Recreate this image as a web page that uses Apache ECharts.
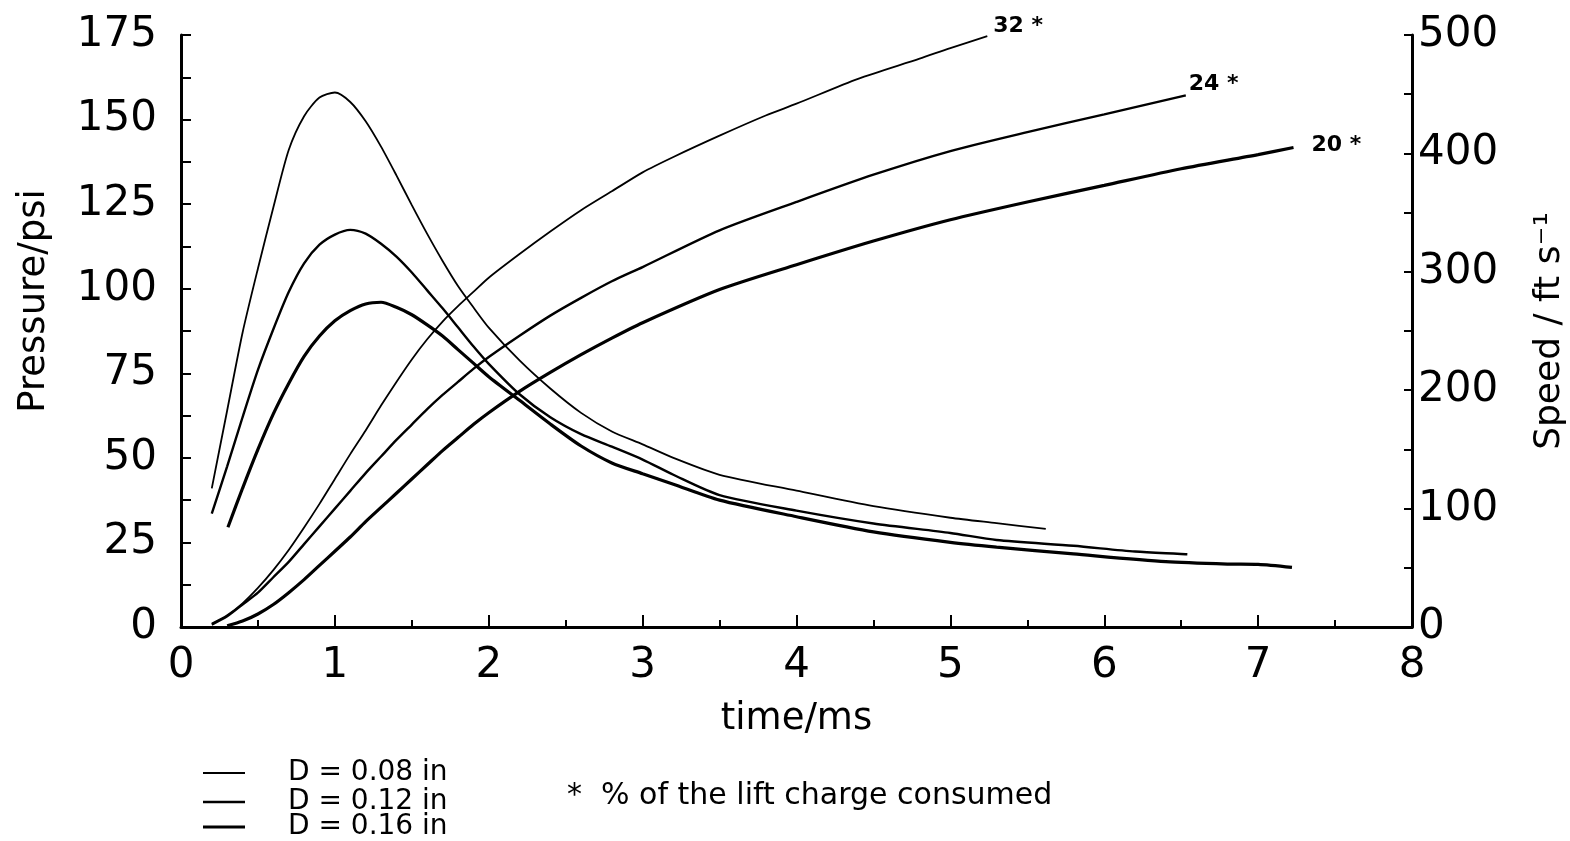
<!DOCTYPE html>
<html>
<head>
<meta charset="utf-8">
<script src="https://cdn.jsdelivr.net/npm/echarts@6/dist/echarts.min.js"></script>
<style>
html,body{margin:0;padding:0;background:#fff;}
#chart{width:1570px;height:841px;}
</style>
</head>
<body>
<div id="chart"></div>
<script>
// ---- data ----
const seriesNames = ['D = 0.08 in', 'D = 0.12 in', 'D = 0.16 in'];
const endLabels = ['32 *', '24 *', '20 *'];
const footnote = '*  % of the lift charge consumed';

const xTicks = [0, 1, 2, 3, 4, 5, 6, 7, 8];
const pressureTicks = [0, 25, 50, 75, 100, 125, 150, 175];
const speedTicks = [0, 100, 200, 300, 400, 500];

// Pressure (psi) vs time (ms)
const tP08 = [0.20,0.30,0.40,0.50,0.60,0.70,0.80,0.90,1.00,1.10,1.20,1.30,1.40,1.50,1.60,1.70,1.80,1.90,2.00,2.20,2.40,2.60,2.80,3.00,3.20,3.50,4.00,4.50,5.00,5.30,5.62];
const vP08 = [41,64,87,106,124,141,151,156.5,158,155.2,149.5,142,133.5,124.7,116.2,108.2,100.8,94.5,88.5,78.8,70.5,63.3,57.8,54,50,45,40.3,35.7,32.3,30.7,29];

const tP12 = [0.20,0.30,0.40,0.50,0.60,0.70,0.80,0.90,1.00,1.10,1.20,1.30,1.40,1.50,1.60,1.70,1.80,1.90,2.00,2.20,2.40,2.60,2.80,3.00,3.20,3.50,4.00,4.50,5.00,5.30,5.80,6.20,6.54];
const vP12 = [33.5,47.5,62,76,88,99,107.5,113,116,117.4,116.3,113.3,109.5,104.8,99.5,94.2,88.6,83,77.8,68.8,62,57,53.3,49.5,45,39,34.4,30.6,27.8,25.7,24,22.3,21.5];

const tP16 = [0.305,0.40,0.50,0.60,0.70,0.80,0.90,1.00,1.10,1.20,1.30,1.40,1.50,1.60,1.70,1.80,1.90,2.00,2.20,2.40,2.60,2.80,3.00,3.20,3.50,4.00,4.50,5.00,5.30,5.80,6.40,6.80,7.00,7.22];
const vP16 = [29.5,41,52.5,63,72,80,86,90.5,93.5,95.5,96,94.5,92.3,89.3,86,82,78,74,67,60,53.5,48.5,45.3,42.2,37.5,32.6,28.1,25,23.6,21.6,19.3,18.6,18.5,17.6];

// Speed (ft/s) vs time (ms)
const tS08 = [0.20,0.30,0.40,0.50,0.60,0.70,0.80,0.90,1.00,1.10,1.20,1.30,1.40,1.50,1.60,1.70,1.80,1.90,2.00,2.20,2.40,2.60,2.80,3.00,3.20,3.50,3.80,4.00,4.40,4.80,5.00,5.24];
const vS08 = [3,10,20,33,48,65,84,104,125,146,166,187,207,226,243,258,271,283,295,315,334,352,368,384,397,415,432,442,463,480,489,499];

const tS12 = [0.20,0.30,0.40,0.50,0.60,0.70,0.80,0.90,1.00,1.10,1.20,1.30,1.40,1.50,1.60,1.70,1.80,1.90,2.00,2.20,2.40,2.60,2.80,3.00,3.50,4.00,4.50,5.00,5.50,6.00,6.53];
const vS12 = [2,9,19,29,42,55,70,85,100,115,130,144,158,171,184,196,207,218,228,246,263,278,292,304,335,359,382,402,418,433,449];

const tS16 = [0.30,0.40,0.50,0.60,0.70,0.80,0.90,1.00,1.10,1.20,1.30,1.40,1.50,1.60,1.70,1.80,1.90,2.00,2.20,2.40,2.60,2.80,3.00,3.50,4.00,4.50,5.00,5.50,6.00,6.50,7.00,7.23];
const vS16 = [1,5,11,19,29,40,52,64,76,89,101,113,125,137,149,160,171,181,199,215,230,244,257,285,306,326,344,359,373,387,399,405];

// ---- build ----
const zip = (t, v) => t.map((x, i) => [x, v[i]]);
const FONT = 'DejaVu Sans';
const widths = [1.8, 2.4, 3.2];

const pressure = [zip(tP08, vP08), zip(tP12, vP12), zip(tP16, vP16)];
const speed = [zip(tS08, vS08), zip(tS12, vS12), zip(tS16, vS16)];
const endOffsets = [[6, -10], [3, -11], [18, -2]];
const legendTops = [754, 783, 808];

const series = [];
for (let i = 0; i < 3; i++) {
  series.push({
    name: seriesNames[i], type: 'line', yAxisIndex: 0, data: pressure[i],
    symbol: 'none', smooth: 0.25, color: '#000',
    lineStyle: { color: '#000', width: widths[i] }
  });
}
for (let i = 0; i < 3; i++) {
  series.push({
    name: seriesNames[i], type: 'line', yAxisIndex: 1, data: speed[i],
    symbol: 'none', smooth: 0.25, color: '#000',
    lineStyle: { color: '#000', width: widths[i] },
    endLabel: {
      show: true, formatter: endLabels[i], distance: 0, offset: endOffsets[i],
      fontFamily: FONT, fontSize: 22, fontWeight: 'bold', color: '#000'
    }
  });
}

const legends = seriesNames.map((n, i) => ({
  data: [{ name: n, icon: 'rect' }], orient: 'vertical', left: 198, top: legendTops[i],
  itemWidth: 42, itemHeight: widths[i], itemGap: 0, selectedMode: false,
  itemStyle: { color: '#000' },
  textStyle: { fontFamily: FONT, fontSize: 28, color: '#000', padding: [0, 0, 0, 38] }
}));

const axisCommon = {
  axisLine: { show: true, onZero: false, lineStyle: { color: '#000', width: 3 } },
  splitLine: { show: false },
  minorSplitLine: { show: false }
};

const chart = echarts.init(document.getElementById('chart'), null, { renderer: 'canvas' });
chart.setOption({
  backgroundColor: '#fff',
  animation: false,
  grid: { left: 181, right: 158, top: 35, bottom: 214, containLabel: false, outerBoundsMode: 'none' },
  legend: legends,
  xAxis: Object.assign({}, axisCommon, {
    type: 'value', min: xTicks[0], max: xTicks[xTicks.length - 1], interval: 1,
    name: 'time/ms', nameLocation: 'middle', nameGap: 74,
    nameTextStyle: { fontFamily: FONT, fontSize: 37, color: '#000' },
    axisTick: { show: true, inside: true, length: 12, lineStyle: { color: '#000', width: 2 } },
    minorTick: { show: true, splitNumber: 2, length: 7, lineStyle: { color: '#000', width: 2 } },
    axisLabel: { fontFamily: FONT, fontSize: 42, color: '#000', margin: 18 }
  }),
  yAxis: [
    Object.assign({}, axisCommon, {
      type: 'value', position: 'left', min: pressureTicks[0], max: pressureTicks[pressureTicks.length - 1], interval: 25,
      name: 'Pressure/psi', nameLocation: 'middle', nameRotate: 90, nameGap: 128,
      nameTextStyle: { fontFamily: FONT, fontSize: 37, color: '#000', padding: [0, 0, 0, 60] },
      axisTick: { show: true, inside: true, length: 10, lineStyle: { color: '#000', width: 2 } },
      minorTick: { show: true, splitNumber: 2, length: 10, lineStyle: { color: '#000', width: 2 } },
      axisLabel: { fontFamily: FONT, fontSize: 42, color: '#000', margin: 24 }
    }),
    Object.assign({}, axisCommon, {
      type: 'value', position: 'right', min: speedTicks[0], max: speedTicks[speedTicks.length - 1], interval: 100,
      name: 'Speed / ft s\u207B\u00B9', nameLocation: 'middle', nameRotate: 90, nameGap: 120,
      nameTextStyle: { fontFamily: FONT, fontSize: 36, color: '#000' },
      axisTick: { show: true, inside: true, length: 8, lineStyle: { color: '#000', width: 2 } },
      minorTick: { show: true, splitNumber: 2, length: 8, lineStyle: { color: '#000', width: 2 } },
      axisLabel: { fontFamily: FONT, fontSize: 42, color: '#000', margin: 6 }
    })
  ],
  graphic: [
    { type: 'text', left: 567, top: 781, style: { text: footnote, font: '30px "DejaVu Sans"', fill: '#000' } }
  ],
  series: series
});
</script>
</body>
</html>
